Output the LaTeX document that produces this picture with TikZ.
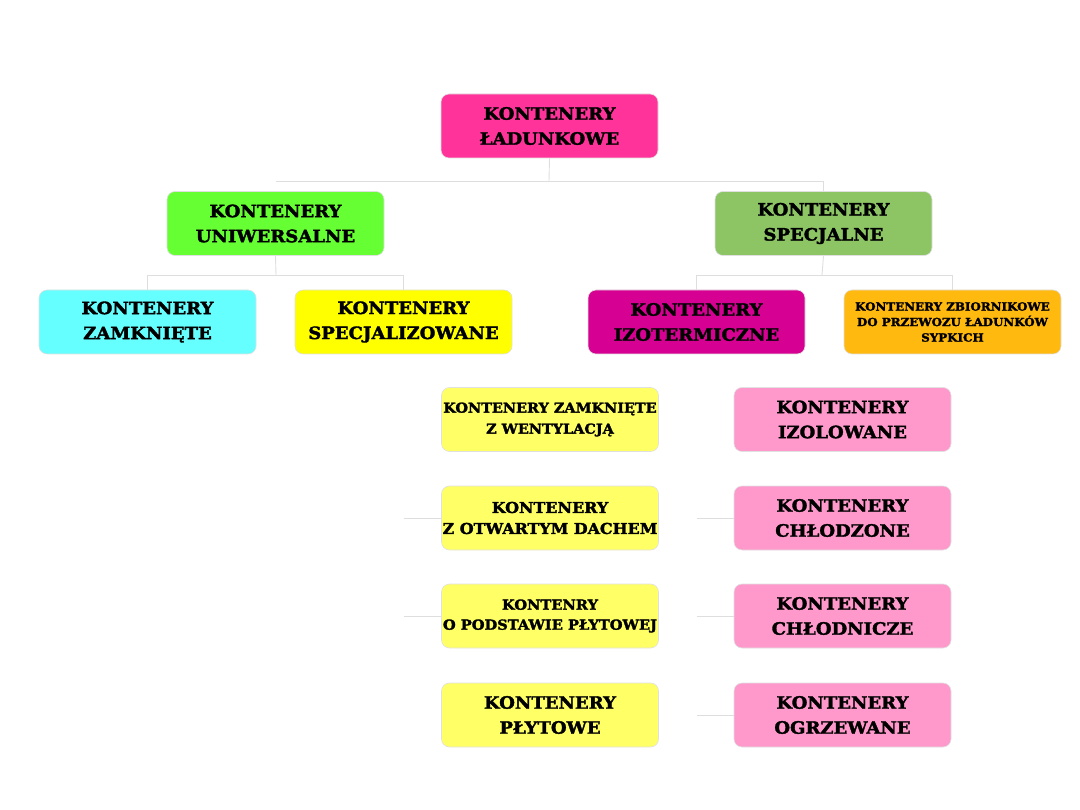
\documentclass[tikz,border=0pt]{standalone}
\usepackage{fontspec}
\setmainfont{DejaVu Serif}[BoldFeatures={FakeStretch=1.06,FakeBold=2}]
\begin{document}
\begin{tikzpicture}[x=1pt,y=-1pt,
  box/.style={rectangle, rounded corners=8pt, minimum width=217pt, minimum height=64pt,
    draw=black!12, line width=0.6pt, align=center, inner sep=0pt, text=black},
  big/.style={font=\bfseries\fontsize{17}{25}\selectfont},
  conn/.style={draw=black!13, line width=0.9pt}]
\useasboundingbox (0,0) rectangle (1080,810);
\definecolor{cRoot}{HTML}{FF3399}
\definecolor{cUni}{HTML}{66FF33}
\definecolor{cSpec}{HTML}{8DC565}
\definecolor{cZam}{HTML}{66FFFF}
\definecolor{cSpz}{HTML}{FFFF00}
\definecolor{cIzo}{HTML}{D60093}
\definecolor{cZb}{HTML}{FFB90F}
\definecolor{cYel}{HTML}{FFFF66}
\definecolor{cPink}{HTML}{FF99CC}

\node[box,big,fill=cRoot] (root) at (549.5,126) {KONTENERY\\ŁADUNKOWE};
\node[box,big,fill=cUni] (uni) at (275.5,223.5) {KONTENERY\\UNIWERSALNE};
\node[box,big,fill=cSpec] (spec) at (823.5,223.5) {KONTENERY\\SPECJALNE};
\node[box,big,fill=cZam] (zam) at (147.5,322) {KONTENERY\\ZAMKNIĘTE};
\node[box,big,fill=cSpz] (spz) at (403.5,322) {KONTENERY\\SPECJALIZOWANE};
\node[box,big,fill=cIzo] (izo) at (696.5,322) {KONTENERY\\IZOTERMICZNE};
\node[box,fill=cZb,font=\bfseries\fontsize{11.2}{15.5}\selectfont] (zb) at (952.5,322) {KONTENERY ZBIORNIKOWE\\DO PRZEWOZU ŁADUNKÓW\\SYPKICH};

\node[box,fill=cYel,font=\bfseries\fontsize{13.6}{21}\selectfont] (y1) at (550,419.5) {KONTENERY ZAMKNIĘTE\\Z WENTYLACJĄ};
\node[box,fill=cYel,font=\bfseries\fontsize{15}{21}\selectfont] (y2) at (550,518) {KONTENERY\\Z OTWARTYM DACHEM};
\node[box,fill=cYel,font=\bfseries\fontsize{13.8}{20}\selectfont] (y3) at (550,616) {KONTENRY\\O PODSTAWIE PŁYTOWEJ};
\node[box,big,fill=cYel] (y4) at (550,715) {KONTENERY\\PŁYTOWE};

\node[box,big,fill=cPink] (p1) at (842.5,419.5) {KONTENERY\\IZOLOWANE};
\node[box,big,fill=cPink] (p2) at (842.5,518) {KONTENERY\\CHŁODZONE};
\node[box,big,fill=cPink] (p3) at (842.5,616) {KONTENERY\\CHŁODNICZE};
\node[box,big,fill=cPink] (p4) at (842.5,715) {KONTENERY\\OGRZEWANE};

% level 1
\coordinate (j1) at (549,181);
\draw[conn] (root.south) -- (j1);
\draw[conn] (uni.north |- j1) -- (spec.north |- j1) -- (spec.north);
% level 2 left
\coordinate (j2) at (276,275);
\draw[conn] (uni.south) -- (j2);
\draw[conn] (zam.north) -- (zam.north |- j2) -- (spz.north |- j2) -- (spz.north);
% level 2 right
\coordinate (j3) at (822,275);
\draw[conn] (spec.south) -- (j3);
\draw[conn] (izo.north) -- (izo.north |- j3) -- (zb.north |- j3) -- (zb.north);
% level 3 stubs
\draw[conn] (spz.south |- y2.west) -- (y2.west);
\draw[conn] (spz.south |- y3.west) -- (y3.west);
\draw[conn] (izo.south |- p2.west) -- (p2.west);
\draw[conn] (izo.south |- p3.west) -- (p3.west);
\draw[conn] (izo.south |- p4.west) -- (p4.west);
\end{tikzpicture}
\end{document}
